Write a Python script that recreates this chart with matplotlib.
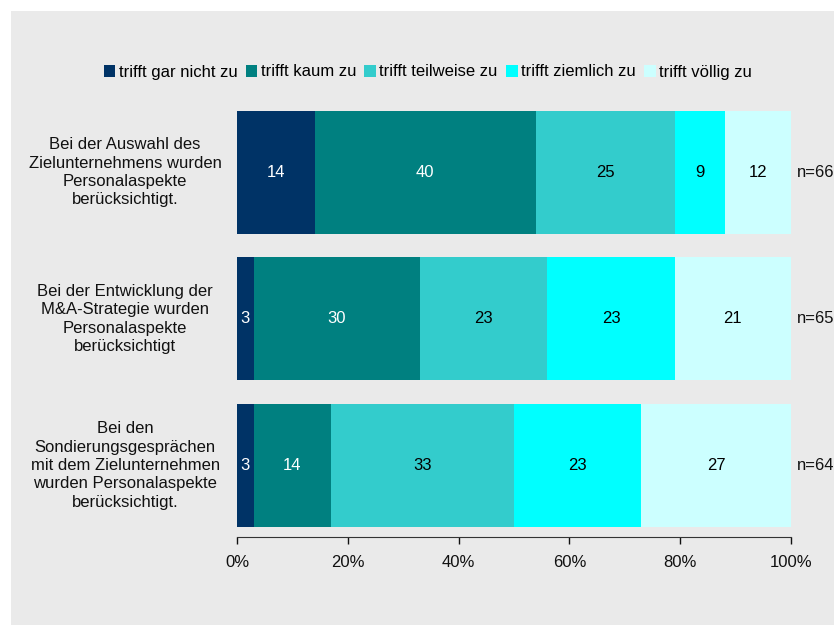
#gestapeltes Balkendiagramm (100%)
import matplotlib.pyplot as plt
from matplotlib.patches import Rectangle

plt.rcParams['font.family'] = ['Liberation Sans', 'DejaVu Sans']

#데이터 셋팅
fragen = ['Bei der Auswahl des\nZielunternehmens wurden\nPersonalaspekte\nberücksichtigt.',
          'Bei der Entwicklung der\nM&A-Strategie wurden\nPersonalaspekte\nberücksichtigt',
          'Bei den\nSondierungsgesprächen\nmit dem Zielunternehmen\nwurden Personalaspekte\nberücksichtigt.']
n_werte = ['n=66', 'n=65', 'n=64']
kategorien = ['trifft gar nicht zu', 'trifft kaum zu', 'trifft teilweise zu',
              'trifft ziemlich zu', 'trifft völlig zu']
gar_nicht = [14, 3, 3]
kaum = [40, 30, 14]
teilweise = [25, 23, 33]
ziemlich = [9, 23, 23]
voellig = [12, 21, 27]
werte = [gar_nicht, kaum, teilweise, ziemlich, voellig]

farben = ['#003366', '#008080', '#33CCCC', '#00FFFF', '#CCFFFF']
textfarben = ['white', 'white', 'black', 'black', 'black']

fig = plt.figure(figsize=(8.34, 6.25), dpi=100)
fig.patch.set_facecolor('white')
# grauer Hintergrund
fig.patches.append(Rectangle((11/834, 0), 1, 1 - 11/625, transform=fig.transFigure,
                             facecolor='#EAEAEA', edgecolor='none', zorder=-10))

ax = fig.add_axes([237/834, 1 - 537/625, 554/834, 438/625])
ax.set_facecolor('none')

y = list(range(len(fragen)))
links = [0] * len(fragen)
for werte_k, name, farbe, tf in zip(werte, kategorien, farben, textfarben):
    ax.barh(y, werte_k, left=links, height=0.84, color=farbe, label=name)
    for i, v in enumerate(werte_k):
        ax.text(links[i] + v / 2, i, str(v), ha='center', va='center',
                color=tf, fontsize=12)
    links = [l + v for l, v in zip(links, werte_k)]

for i, (frage, n) in enumerate(zip(fragen, n_werte)):
    ax.text(-20.2, i, frage, ha='center', va='center', fontsize=12,
            linespacing=1.28, color='#111111')
    ax.text(101.1, i, n, ha='left', va='center', fontsize=12, color='#111111')

ax.set_xlim(0, 100)
ax.set_ylim(2.488, -0.5)
ax.set_yticks([])
ax.set_xticks([0, 20, 40, 60, 80, 100])
ax.set_xticklabels(['0%', '20%', '40%', '60%', '80%', '100%'], fontsize=12)
ax.tick_params(axis='x', direction='out', length=5, width=1, pad=8, colors='#111111')
for s in ['top', 'left', 'right']:
    ax.spines[s].set_visible(False)
ax.spines['bottom'].set_color('#333333')

fig.legend(loc='center', bbox_to_anchor=(0.513, 1 - 72/625), ncol=5, frameon=False,
           fontsize=12, handlelength=0.7, handleheight=0.7, handletextpad=0.2,
           columnspacing=0.5)

plt.savefig('out.png', dpi=100)
